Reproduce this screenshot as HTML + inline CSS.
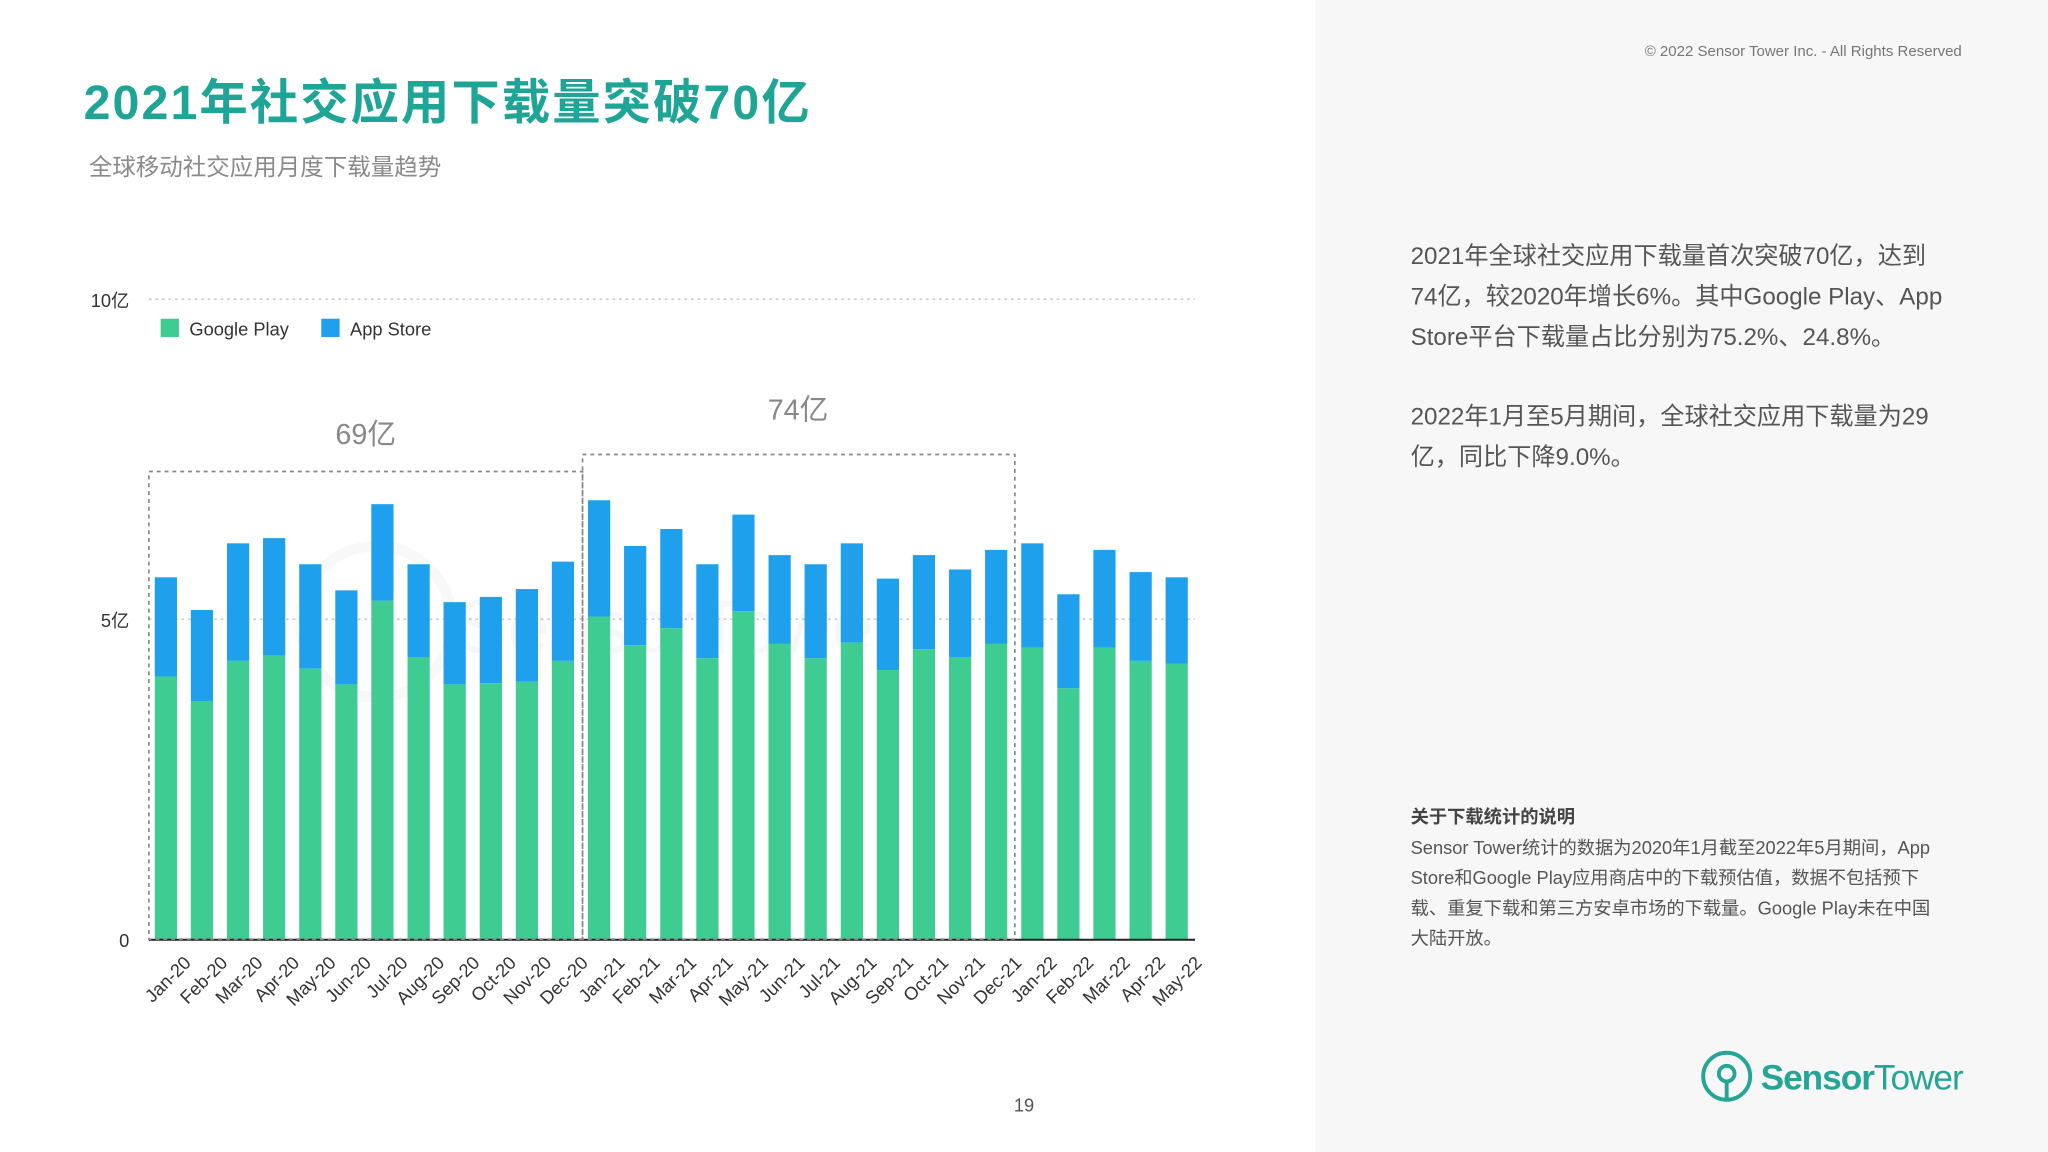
<!DOCTYPE html>
<html><head><meta charset="utf-8"><style>
html,body{margin:0;padding:0;background:#fff}
svg{display:block}
text{font-family:"Liberation Sans","Noto Sans CJK SC",sans-serif}
</style></head><body>
<svg width="2048" height="1152" viewBox="0 0 1568 882" xmlns="http://www.w3.org/2000/svg">
<rect x="0" y="0" width="1568" height="882" fill="#ffffff"/>
<rect x="1007" y="0" width="561" height="882" fill="#f7f7f7"/>
<text x="64" y="91" font-size="37" font-weight="bold" fill="#1ea596" letter-spacing="1.6">2021年社交应用下载量突破70亿</text>
<text x="68" y="134" font-size="18" fill="#8a8a8a">全球移动社交应用月度下载量趋势</text>
<text x="1502" y="43" font-size="11.5" fill="#777" text-anchor="end">© 2022 Sensor Tower Inc. - All Rights Reserved</text>

<g font-size="18.5" fill="#555">
<text x="1080" y="202">2021年全球社交应用下载量首次突破70亿，达到</text>
<text x="1080" y="233">74亿，较2020年增长6%。其中Google Play、App</text>
<text x="1080" y="264">Store平台下载量占比分别为75.2%、24.8%。</text>
<text x="1080" y="325">2022年1月至5月期间，全球社交应用下载量为29</text>
<text x="1080" y="356">亿，同比下降9.0%。</text>
</g>
<g font-size="14" fill="#555">
<text x="1080" y="630" font-weight="bold" fill="#444">关于下载统计的说明</text>
<text x="1080" y="654">Sensor Tower统计的数据为2020年1月截至2022年5月期间，App</text>
<text x="1080" y="677">Store和Google Play应用商店中的下载预估值，数据不包括预下</text>
<text x="1080" y="700">载、重复下载和第三方安卓市场的下载量。Google Play未在中国</text>
<text x="1080" y="723">大陆开放。</text>
</g>
<g stroke="#25a695" fill="none" stroke-width="3">
<circle cx="1322" cy="824" r="18"/>
<circle cx="1322" cy="822" r="6"/>
<line x1="1322" y1="828" x2="1322" y2="842"/>
</g>
<text x="1348" y="834" font-size="27" font-weight="bold" fill="#25a695" letter-spacing="-0.8">Sensor<tspan font-weight="normal">Tower</tspan></text>
<text x="784" y="851" font-size="14" fill="#555" text-anchor="middle">19</text>

<line x1="114" y1="229" x2="915" y2="229" stroke="#bbb" stroke-dasharray="2,3"/>
<line x1="114" y1="474" x2="915" y2="474" stroke="#bbb" stroke-dasharray="2,3"/>
<text x="99" y="235" font-size="14" fill="#333" text-anchor="end">10亿</text>
<text x="99" y="480" font-size="14" fill="#333" text-anchor="end">5亿</text>
<text x="99" y="725" font-size="14" fill="#333" text-anchor="end">0</text>
<rect x="123" y="244" width="14" height="14" fill="#3ecc93"/>
<text x="145" y="257" font-size="14" fill="#333">Google Play</text>
<rect x="246" y="244" width="14" height="14" fill="#1fa0ec"/>
<text x="268" y="257" font-size="14" fill="#333">App Store</text>

<g opacity="0.06" stroke="#888" fill="none" stroke-width="8">
<circle cx="288" cy="476" r="58"/>
</g>
<text x="350" y="500" font-size="58" fill="#888" opacity="0.06">SensorTower</text>

<g id="bars">
<rect x="118.5" y="442" width="17" height="76" fill="#1fa0ec"/><rect x="118.5" y="518" width="17" height="201" fill="#3ecc93"/>
<rect x="146.1" y="467" width="17" height="70" fill="#1fa0ec"/><rect x="146.1" y="537" width="17" height="182" fill="#3ecc93"/>
<rect x="173.8" y="416" width="17" height="90" fill="#1fa0ec"/><rect x="173.8" y="506" width="17" height="213" fill="#3ecc93"/>
<rect x="201.4" y="412" width="17" height="90" fill="#1fa0ec"/><rect x="201.4" y="502" width="17" height="217" fill="#3ecc93"/>
<rect x="229.1" y="432" width="17" height="80" fill="#1fa0ec"/><rect x="229.1" y="512" width="17" height="207" fill="#3ecc93"/>
<rect x="256.7" y="452" width="17" height="72" fill="#1fa0ec"/><rect x="256.7" y="524" width="17" height="195" fill="#3ecc93"/>
<rect x="284.3" y="386" width="17" height="74" fill="#1fa0ec"/><rect x="284.3" y="460" width="17" height="259" fill="#3ecc93"/>
<rect x="312.0" y="432" width="17" height="71" fill="#1fa0ec"/><rect x="312.0" y="503" width="17" height="216" fill="#3ecc93"/>
<rect x="339.6" y="461" width="17" height="63" fill="#1fa0ec"/><rect x="339.6" y="524" width="17" height="195" fill="#3ecc93"/>
<rect x="367.3" y="457" width="17" height="66" fill="#1fa0ec"/><rect x="367.3" y="523" width="17" height="196" fill="#3ecc93"/>
<rect x="394.9" y="451" width="17" height="71" fill="#1fa0ec"/><rect x="394.9" y="522" width="17" height="197" fill="#3ecc93"/>
<rect x="422.5" y="430" width="17" height="76" fill="#1fa0ec"/><rect x="422.5" y="506" width="17" height="213" fill="#3ecc93"/>
<rect x="450.2" y="383" width="17" height="89" fill="#1fa0ec"/><rect x="450.2" y="472" width="17" height="247" fill="#3ecc93"/>
<rect x="477.8" y="418" width="17" height="76" fill="#1fa0ec"/><rect x="477.8" y="494" width="17" height="225" fill="#3ecc93"/>
<rect x="505.5" y="405" width="17" height="76" fill="#1fa0ec"/><rect x="505.5" y="481" width="17" height="238" fill="#3ecc93"/>
<rect x="533.1" y="432" width="17" height="72" fill="#1fa0ec"/><rect x="533.1" y="504" width="17" height="215" fill="#3ecc93"/>
<rect x="560.7" y="394" width="17" height="74" fill="#1fa0ec"/><rect x="560.7" y="468" width="17" height="251" fill="#3ecc93"/>
<rect x="588.4" y="425" width="17" height="68" fill="#1fa0ec"/><rect x="588.4" y="493" width="17" height="226" fill="#3ecc93"/>
<rect x="616.0" y="432" width="17" height="72" fill="#1fa0ec"/><rect x="616.0" y="504" width="17" height="215" fill="#3ecc93"/>
<rect x="643.7" y="416" width="17" height="76" fill="#1fa0ec"/><rect x="643.7" y="492" width="17" height="227" fill="#3ecc93"/>
<rect x="671.3" y="443" width="17" height="70" fill="#1fa0ec"/><rect x="671.3" y="513" width="17" height="206" fill="#3ecc93"/>
<rect x="698.9" y="425" width="17" height="72" fill="#1fa0ec"/><rect x="698.9" y="497" width="17" height="222" fill="#3ecc93"/>
<rect x="726.6" y="436" width="17" height="67" fill="#1fa0ec"/><rect x="726.6" y="503" width="17" height="216" fill="#3ecc93"/>
<rect x="754.2" y="421" width="17" height="72" fill="#1fa0ec"/><rect x="754.2" y="493" width="17" height="226" fill="#3ecc93"/>
<rect x="781.9" y="416" width="17" height="80" fill="#1fa0ec"/><rect x="781.9" y="496" width="17" height="223" fill="#3ecc93"/>
<rect x="809.5" y="455" width="17" height="72" fill="#1fa0ec"/><rect x="809.5" y="527" width="17" height="192" fill="#3ecc93"/>
<rect x="837.1" y="421" width="17" height="75" fill="#1fa0ec"/><rect x="837.1" y="496" width="17" height="223" fill="#3ecc93"/>
<rect x="864.8" y="438" width="17" height="68" fill="#1fa0ec"/><rect x="864.8" y="506" width="17" height="213" fill="#3ecc93"/>
<rect x="892.4" y="442" width="17" height="66" fill="#1fa0ec"/><rect x="892.4" y="508" width="17" height="211" fill="#3ecc93"/>
</g>
<line x1="114" y1="719.5" x2="915" y2="719.5" stroke="#222" stroke-width="1.5"/>

<rect x="114" y="361" width="332" height="358" fill="none" stroke="#888" stroke-width="1.3" stroke-dasharray="3,3"/>
<rect x="446" y="348" width="331" height="371" fill="none" stroke="#888" stroke-width="1.3" stroke-dasharray="3,3"/>
<text x="280" y="340" font-size="22" fill="#888" text-anchor="middle">69亿</text>
<text x="611" y="321" font-size="22" fill="#888" text-anchor="middle">74亿</text>

<g font-size="14" fill="#333" text-anchor="end">
<text transform="translate(147,738) rotate(-45)">Jan-20</text>
<text transform="translate(175,738) rotate(-45)">Feb-20</text>
<text transform="translate(202,738) rotate(-45)">Mar-20</text>
<text transform="translate(230,738) rotate(-45)">Apr-20</text>
<text transform="translate(258,738) rotate(-45)">May-20</text>
<text transform="translate(285,738) rotate(-45)">Jun-20</text>
<text transform="translate(313,738) rotate(-45)">Jul-20</text>
<text transform="translate(341,738) rotate(-45)">Aug-20</text>
<text transform="translate(368,738) rotate(-45)">Sep-20</text>
<text transform="translate(396,738) rotate(-45)">Oct-20</text>
<text transform="translate(423,738) rotate(-45)">Nov-20</text>
<text transform="translate(451,738) rotate(-45)">Dec-20</text>
<text transform="translate(479,738) rotate(-45)">Jan-21</text>
<text transform="translate(506,738) rotate(-45)">Feb-21</text>
<text transform="translate(534,738) rotate(-45)">Mar-21</text>
<text transform="translate(562,738) rotate(-45)">Apr-21</text>
<text transform="translate(589,738) rotate(-45)">May-21</text>
<text transform="translate(617,738) rotate(-45)">Jun-21</text>
<text transform="translate(644,738) rotate(-45)">Jul-21</text>
<text transform="translate(672,738) rotate(-45)">Aug-21</text>
<text transform="translate(700,738) rotate(-45)">Sep-21</text>
<text transform="translate(727,738) rotate(-45)">Oct-21</text>
<text transform="translate(755,738) rotate(-45)">Nov-21</text>
<text transform="translate(783,738) rotate(-45)">Dec-21</text>
<text transform="translate(810,738) rotate(-45)">Jan-22</text>
<text transform="translate(838,738) rotate(-45)">Feb-22</text>
<text transform="translate(866,738) rotate(-45)">Mar-22</text>
<text transform="translate(893,738) rotate(-45)">Apr-22</text>
<text transform="translate(921,738) rotate(-45)">May-22</text>
</g>
</svg>
</body></html>
